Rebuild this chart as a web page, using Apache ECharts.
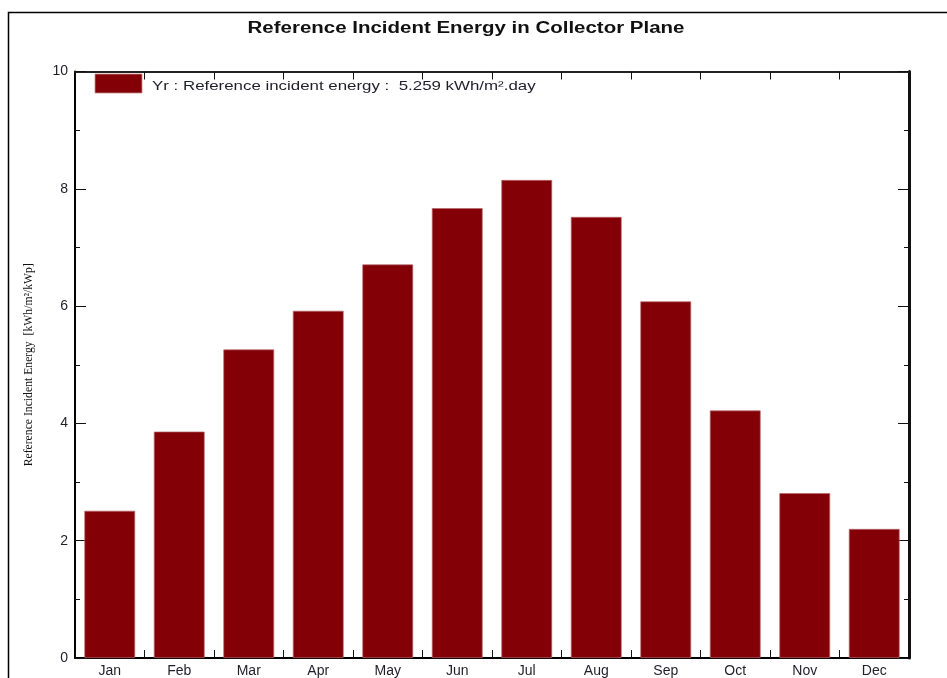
<!DOCTYPE html>
<html>
<head>
<meta charset="utf-8">
<style>
  html, body { margin: 0; padding: 0; background: #fff; }
  #chart { width: 947px; height: 678px; }
</style>
<script src="https://cdn.jsdelivr.net/npm/echarts@6/dist/echarts.min.js"></script>
</head>
<body>
<div id="chart"></div>
<script>
// Monthly reference incident energy in the collector plane
const months = ['Jan', 'Feb', 'Mar', 'Apr', 'May', 'Jun', 'Jul', 'Aug', 'Sep', 'Oct', 'Nov', 'Dec'];
const incidentEnergy = [2.51, 3.86, 5.26, 5.92, 6.71, 7.67, 8.15, 7.52, 6.08, 4.22, 2.81, 2.20];
const yTicks = [0, 2, 4, 6, 8, 10];
const seriesName = 'Yr : Reference incident energy :  5.259 kWh/m\u00b2.day';
const chartTitle = 'Reference Incident Energy in Collector Plane';

const barColor = '#820006';
const labelColor = '#1f1f2a';

const chart = echarts.init(document.getElementById('chart'), null, { renderer: 'canvas' });

const commonYAxis = {
  type: 'value',
  min: yTicks[0],
  max: yTicks[yTicks.length - 1],
  interval: 2,
  splitLine: { show: false },
  axisTick: { show: true, inside: true, length: 11, lineStyle: { color: '#111', width: 1 } },
  minorTick: { show: true, splitNumber: 2, length: 5, lineStyle: { color: '#111', width: 1 } },
  minorSplitLine: { show: false }
};

const commonXAxis = {
  type: 'category',
  data: months,
  splitLine: { show: false }
};

chart.setOption({
  animation: false,
  grid: { left: 75, right: 38, top: 71.5, bottom: 19, containLabel: false },
  xAxis: [
    Object.assign({}, commonXAxis, {
      position: 'bottom',
      axisLine: { onZero: false, lineStyle: { color: '#000', width: 2 } },
      axisTick: { show: true, inside: true, length: 8, lineStyle: { color: '#111', width: 1 } },
      axisLabel: { fontFamily: 'Liberation Sans', fontSize: 14, color: labelColor, margin: 6 }
    }),
    Object.assign({}, commonXAxis, {
      position: 'top',
      axisLine: { onZero: false, lineStyle: { color: '#222', width: 2 } },
      axisTick: { show: true, inside: true, length: 8, lineStyle: { color: '#111', width: 1 } },
      axisLabel: { show: false }
    })
  ],
  yAxis: [
    Object.assign({}, commonYAxis, {
      position: 'left',
      name: 'Reference Incident Energy  [kWh/m\u00b2/kWp]',
      nameLocation: 'middle',
      nameRotate: 90,
      nameGap: 40,
      nameTextStyle: { fontFamily: 'Liberation Serif', fontSize: 11.7, color: '#111' },
      axisLine: { show: true, lineStyle: { color: '#000', width: 2 } },
      axisLabel: { fontFamily: 'Liberation Sans', fontSize: 14, color: labelColor, margin: 7 }
    }),
    Object.assign({}, commonYAxis, {
      position: 'right',
      axisLine: { show: true, lineStyle: { color: '#111', width: 3 } },
      axisLabel: { show: false }
    })
  ],
  series: [
    {
      name: seriesName,
      type: 'bar',
      data: incidentEnergy,
      xAxisIndex: 0,
      yAxisIndex: 0,
      barCategoryGap: '27%',
      itemStyle: { color: barColor, borderColor: '#b9666b', borderWidth: 0.7 }
    }
  ],
  graphic: [
    // outer frame of the chart panel
    {
      type: 'rect',
      shape: { x: 8.5, y: 12.5, width: 1000, height: 1000 },
      style: { fill: 'none', stroke: '#000', lineWidth: 1.5 },
      silent: true,
      z: 0
    },
    // title, drawn in a horizontally widened face
    {
      type: 'text',
      x: 466,
      y: 28,
      scaleX: 1.22,
      style: {
        text: chartTitle,
        fontFamily: 'Liberation Sans',
        fontWeight: 'bold',
        fontSize: 16.8,
        fill: '#111',
        align: 'center',
        verticalAlign: 'middle'
      },
      silent: true
    },
    // legend swatch and caption
    {
      type: 'rect',
      shape: { x: 95, y: 74, width: 47, height: 19 },
      style: { fill: barColor, stroke: '#c98a8c', lineWidth: 0.8 },
      silent: true,
      z: 10
    },
    {
      type: 'text',
      x: 152,
      y: 86,
      scaleX: 1.25,
      style: {
        text: seriesName,
        fontFamily: 'Liberation Sans',
        fontSize: 13.5,
        fill: labelColor,
        align: 'left',
        verticalAlign: 'middle'
      },
      silent: true,
      z: 10
    }
  ]
});
</script>
</body>
</html>
